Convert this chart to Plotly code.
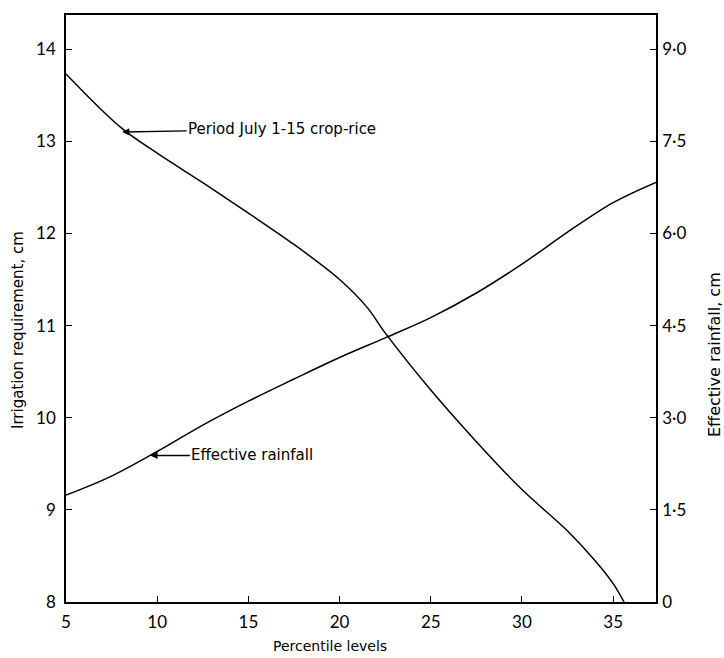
import plotly.graph_objects as go

# Percentile levels
irr_x = [5, 8, 10, 12.5, 15, 17.5, 20, 21.5, 22.5, 25, 27.5, 30, 32.5, 34, 35, 35.6]
# Irrigation requirement, cm (left axis)
irr_y = [13.73, 13.15, 12.87, 12.55, 12.22, 11.88, 11.5, 11.2, 10.92, 10.3, 9.74, 9.22, 8.77, 8.45, 8.2, 8.0]

rain_x = [5, 7.5, 10, 12.5, 15, 17.5, 20, 22.5, 25, 27.5, 30, 32.5, 35, 37.35]
# Effective rainfall, cm (right axis)
rain_y = [1.74, 2.05, 2.45, 2.88, 3.27, 3.63, 3.98, 4.3, 4.63, 5.03, 5.5, 6.02, 6.5, 6.83]

x_ticks = [5, 10, 15, 20, 25, 30, 35]
left_ticks = [8, 9, 10, 11, 12, 13, 14]
right_ticks = [0, 1.5, 3.0, 4.5, 6.0, 7.5, 9.0]
right_ticktext = ["0", "1·5", "3·0", "4·5", "6·0", "7·5", "9·0"]

FONT = "Lato"
TFONT = "DejaVu Sans"

fig = go.Figure()
fig.add_trace(go.Scatter(x=irr_x, y=irr_y, mode="lines",
                         line=dict(color="black", width=1.5, shape="spline", smoothing=1.0),
                         showlegend=False))
fig.add_trace(go.Scatter(x=rain_x, y=rain_y, mode="lines", yaxis="y2",
                         line=dict(color="black", width=1.5, shape="spline", smoothing=1.0),
                         showlegend=False))

axis_common = dict(showgrid=False, zeroline=False, showline=True, linecolor="black",
                   linewidth=1.5, ticks="inside", ticklen=6, tickcolor="black", tickwidth=1.2,
                   tickfont=dict(family=FONT, size=17, color="black"))

pl, pr, pt, pb = 66, 68, 15, 56
pw, ph = 724 - pl - pr, 658 - pt - pb

fig.update_layout(
    width=724, height=658,
    margin=dict(l=pl, r=pr, t=pt, b=pb),
    paper_bgcolor="white", plot_bgcolor="white",
    xaxis=dict(range=[5, 37.35], tickvals=x_ticks, mirror=True, ticklabelstandoff=4, **axis_common),
    yaxis=dict(range=[8, 14.37], tickvals=left_ticks, mirror=False, ticklabelstandoff=5,
               **axis_common),
    yaxis2=dict(range=[0, 9.555], tickvals=right_ticks, ticktext=right_ticktext,
                overlaying="y", side="right", ticklabelstandoff=1,
                **axis_common),
    annotations=[
        dict(x=8.08, y=13.1, xref="x", yref="y", text="Period July 1-15 crop-rice",
             showarrow=True, arrowhead=2, arrowsize=1.1, arrowwidth=1.3, arrowcolor="black",
             ax=160, ay=-3, standoff=0, font=dict(family=TFONT, size=15, color="black")),
        dict(x=9.63, y=2.385, xref="x", yref="y2", text="Effective rainfall",
             showarrow=True, arrowhead=2, arrowsize=1.1, arrowwidth=1.3, arrowcolor="black",
             ax=102, ay=0, standoff=0, font=dict(family=TFONT, size=15, color="black")),
        dict(x=(330 - pl) / pw, y=-(646 - (658 - pb)) / ph, xref="paper", yref="paper",
             text="Percentile levels", showarrow=False, xanchor="center", yanchor="middle",
             font=dict(family=TFONT, size=14, color="black")),
        dict(x=(18 - pl) / pw, y=1 - (330 - pt) / ph, xref="paper", yref="paper",
             text="Irrigation requirement, cm", showarrow=False, textangle=-90,
             xanchor="center", yanchor="middle",
             font=dict(family=TFONT, size=15, color="black")),
        dict(x=(714 - pl) / pw, y=1 - (355 - pt) / ph, xref="paper", yref="paper",
             text="Effective rainfall, cm", showarrow=False, textangle=-90,
             xanchor="center", yanchor="middle",
             font=dict(family=TFONT, size=16, color="black")),
    ],
)

fig.write_html("out.html")
